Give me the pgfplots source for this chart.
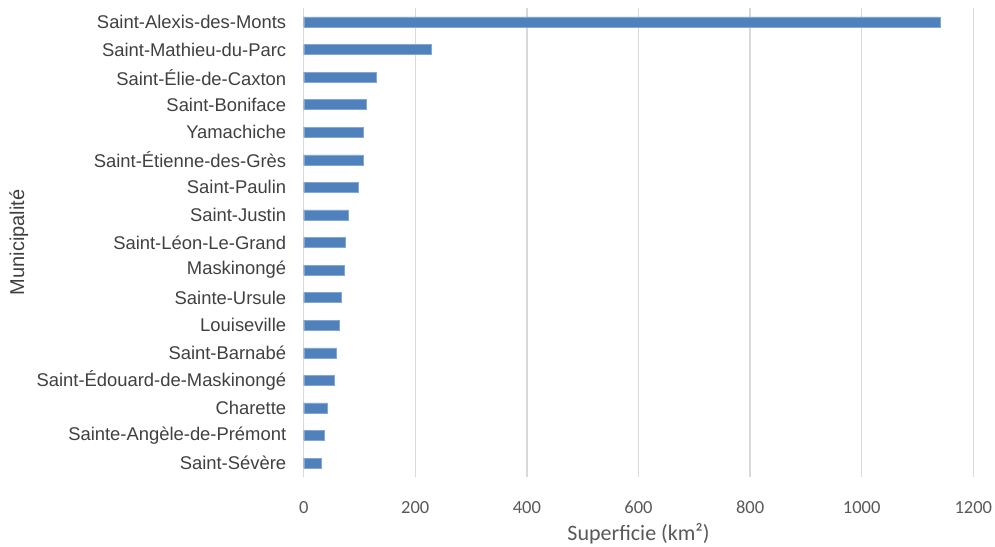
\documentclass[border=0pt]{standalone}
\usepackage{fontspec}
\setmainfont{Carlito}
\newfontfamily\catfont{Liberation Sans}
\usepackage{pgfplots}
\usepackage{pgfplotstable}
\pgfplotsset{compat=1.18}
\definecolor{barblue}{RGB}{79,129,189}
\definecolor{gridgray}{RGB}{217,217,217}
\definecolor{labelgray}{RGB}{89,89,89}
\definecolor{catgray}{RGB}{64,64,64}

\pgfplotstableread[col sep=comma]{
idx,area
0,1140
1,229
2,130
3,112
4,106
5,106
6,98
7,79
8,75
9,73
10,68
11,63
12,59
13,54
14,42
15,37
16,32
}\areas

\begin{document}
\begin{tikzpicture}[x=1pt,y=1pt]
\begin{axis}[
  at={(303.7pt,69.2pt)}, anchor=south west,
  scale only axis, width=669.6pt, height=468.6pt,
  xbar, bar width=10pt,
  xmin=0, xmax=1200, xtick={0,200,...,1200},
  ymin=-0.5, ymax=16.5, y dir=reverse,
  ytick={0,...,16},
  yticklabels={Saint-Alexis-des-Monts,Saint-Mathieu-du-Parc,Saint-Élie-de-Caxton,Saint-Boniface,Yamachiche,Saint-Étienne-des-Grès,Saint-Paulin,Saint-Justin,Saint-Léon-Le-Grand,Maskinongé,Sainte-Ursule,Louiseville,Saint-Barnabé,Saint-Édouard-de-Maskinongé,Charette,Sainte-Angèle-de-Prémont,Saint-Sévère},
  axis line style={draw=none},
  major tick length=0pt,
  xmajorgrids, major grid style={gridgray, line width=1.3pt},
  /pgf/number format/assume math mode=true,
  /pgf/number format/1000 sep={},
  xticklabel style={font=\fontsize{18.5}{22}\selectfont, text=labelgray, yshift=-21pt},
  yticklabel style={font=\catfont\fontsize{18.4}{21}\selectfont, text=catgray, xshift=-14pt},
  xlabel={Superficie (km²)}, ylabel={Municipalité},
  xlabel style={font=\fontsize{22}{26}\selectfont, text=labelgray,
    at={(axis description cs:0.5,0)}, anchor=center, yshift=-57pt},
  ylabel style={font=\catfont\fontsize{20}{24}\selectfont, text=catgray,
    at={(axis description cs:-0.4256,0.5)}, anchor=center},
  clip=false,
]
\addplot[fill=barblue, draw=barblue!70!white, line width=0.4pt] table[x=area, y=idx] {\areas};
\end{axis}
\pgfresetboundingbox
\useasboundingbox (0,0) rectangle (995pt,546pt);
\end{tikzpicture}
\end{document}
